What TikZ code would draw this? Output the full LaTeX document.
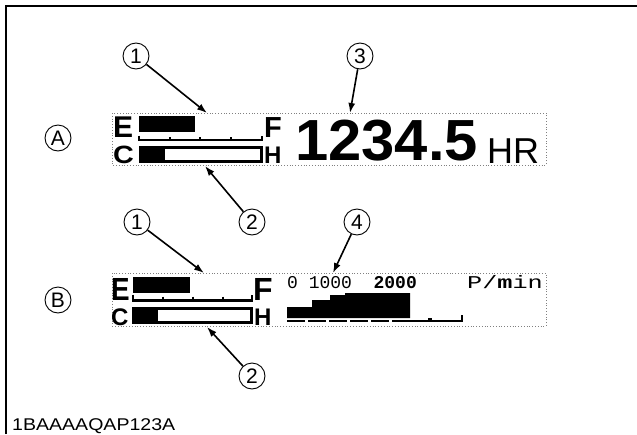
\documentclass[tikz,border=0pt]{standalone}
\usepackage{fontspec}
\setmainfont{Liberation Sans}
\newfontfamily\lcdfont{Liberation Mono}
\usetikzlibrary{arrows.meta}

\tikzset{
    callout/.style={circle, draw, line width=0.9pt, minimum size=26pt, inner sep=0pt, font=\fontsize{21}{21}\selectfont},
    pointer/.style={-{Latex[length=10pt,width=7pt]}, line width=1.6pt},
    panel/.style={draw=gray, dotted, line width=0.8pt},
    glyph/.style={anchor=base west, inner sep=0pt}
}

\begin{document}
\begin{tikzpicture}[x=1pt,y=-1pt]
        \useasboundingbox (0,0) rectangle (637,434);
        \draw[line width=1.8pt] (6,434) -- (6,6) -- (637,6);

        % display A
        \draw[panel] (112,113) rectangle (546,165);
        \node[glyph, font=\fontsize{30}{30}\selectfont\bfseries] (ea) at (113,137) {E};
        \node[glyph, font=\fontsize{25}{25}\selectfont\bfseries] (ca) at (113,163) {\scalebox{1.15}[1]{C}};
        \fill (139,116) rectangle (195,132);
        \draw[line width=2.2pt] (139,135.5) -- (139,140) -- (262,140) -- (262,135.5);
        \foreach \x in {170,200,231} \draw[line width=2pt] (\x,137) -- (\x,140);
        \draw[line width=2.6pt] (140.3,147.3) rectangle (261.3,161.7);
        \fill (138.5,146) rectangle (165,163);
        \node[glyph, font=\fontsize{29}{29}\selectfont\bfseries] (fa) at (264,137) {F};
        \node[glyph, font=\fontsize{24}{24}\selectfont\bfseries] (ha) at (264,163) {H};
        \node[glyph, font=\fontsize{58}{58}\selectfont\bfseries] (hours) at (295,160) {\scalebox{1.03}[1]{1234.5}};
        \node[glyph, font=\fontsize{36}{36}\selectfont] (hr) at (487,163) {HR};

        % display B
        \draw[panel] (112,273) rectangle (546,326);
        \node[glyph, font=\fontsize{32}{32}\selectfont\bfseries] (eb) at (111,300) {\scalebox{0.87}[1]{E}};
        \node[glyph, font=\fontsize{24}{24}\selectfont\bfseries] (cb) at (111,325) {C};
        \fill (133,277) rectangle (190,293);
        \draw[line width=2.2pt] (133,294.5) -- (133,300.5) -- (252,300.5) -- (252,294.5);
        \foreach \x in {163,193,223} \draw[line width=2pt] (\x,296.5) -- (\x,300.5);
        \draw[line width=3.4pt] (133.7,308.7) rectangle (251.3,322.3);
        \fill (132,307) rectangle (158,324);
        \node[glyph, font=\fontsize{32}{32}\selectfont\bfseries] (fb) at (253,300) {F};
        \node[glyph, font=\fontsize{24}{24}\selectfont\bfseries] (hb) at (254,325) {H};
        \node[glyph, font=\lcdfont\fontsize{18}{18}\selectfont] (scale) at (287,288) {0~1000~~\textbf{2000}};
        \node[anchor=base east, inner sep=0pt, font=\lcdfont\fontsize{18}{18}\selectfont] (unit) at (543,288) {\scalebox{1.4}[1]{P/\textbf{m}in}};
        \fill (287,318) -- (287,307) -- (312,307) -- (312,300) -- (330,300) -- (330,295)
            -- (345,295) -- (345,293) -- (410,293) -- (410,318) -- cycle;
        \draw[line width=2pt, dash pattern=on 18pt off 3pt] (287,321) -- (398,321);
        \draw[line width=2pt] (398,321) -- (462,321) -- (462,315);
        \fill (428,318) rectangle (432,321);

        % callouts
        \node[callout] (la) at (58,138) {A};
        \node[callout] (lb) at (58,300) {B};
        \node[callout] (n1a) at (136,56) {1};
        \node[callout] (n3) at (360,56) {3};
        \node[callout] (n2a) at (252,222) {2};
        \node[callout] (n1b) at (137,222) {1};
        \node[callout] (n4) at (357,222) {4};
        \node[callout] (n2b) at (252,376) {2};

        \coordinate (t1a) at (207,113);
        \coordinate (t3) at (350,113);
        \coordinate (t2a) at (205,166);
        \coordinate (t1b) at (204,273);
        \coordinate (t4) at (333,273);
        \coordinate (t2b) at (207,327);
        \draw[pointer] (n1a) -- (t1a);
        \draw[pointer] (n3) -- (t3);
        \draw[pointer] (n2a) -- (t2a);
        \draw[pointer] (n1b) -- (t1b);
        \draw[pointer] (n4) -- (t4);
        \draw[pointer] (n2b) -- (t2b);

        \node[glyph, font=\fontsize{17}{17}\selectfont] (code) at (12,430) {\scalebox{1.15}[1]{1BAAAAQAP123A}};
    \end{tikzpicture}
\end{document}
